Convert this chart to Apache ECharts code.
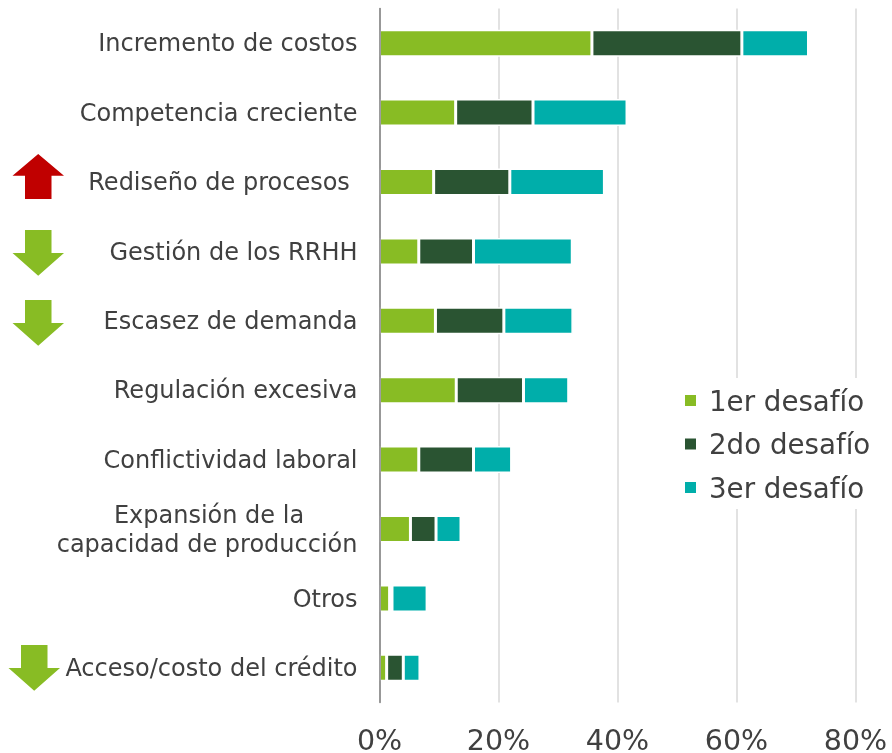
<!DOCTYPE html>
<html>
<head>
<meta charset="utf-8">
<style>html,body{margin:0;padding:0;background:#fff}#c{width:892px;height:753px}</style>
<script src="https://cdn.jsdelivr.net/npm/echarts@6/dist/echarts.min.js"></script>
</head>
<body>
<div id="c"></div>
<script>
const categories = ['Incremento de costos','Competencia creciente','Rediseño de procesos\u00a0','Gestión de los RRHH','Escasez de demanda','Regulación excesiva','Conflictividad laboral','Expansión de la\u00a0\u00a0\u00a0\u00a0\u00a0\u00a0\u00a0\ncapacidad de producción','Otros','Acceso/costo del crédito'];
const primero = [35.7,12.8,9.1,6.6,9.4,12.9,6.6,5.2,1.7,1.2];
const segundo = [25.2,13.0,12.8,9.2,11.5,11.3,9.2,4.3,0.4,2.8];
const tercero = [11.2,15.8,15.9,16.6,11.6,7.6,6.4,4.2,5.9,2.8];
const ticks = [0,20,40,60,80];
const seriesNames = ['1er desafío','2do desafío','3er desafío'];
const colors = ['#88bc24','#2a5432','#00aeaa'];
const TEXT = '#404040', FONT = '"DejaVu Sans"';

const chart = echarts.init(document.getElementById('c'));
const mk = (name, data, color) => ({
  name, type:'bar', stack:'t', barWidth:27, data,
  itemStyle:{color, borderColor:'#fff', borderWidth:1.5}
});
const arrowDown = (x,y) => ({type:'polygon',shape:{points:[[x,y],[x+26.5,y],[x+26.5,y+23],[x+39,y+23],[x+13.2,y+45.7],[x-12.5,y+23],[x,y+23]]},style:{fill:'#88bc24'}});
const arrowUp = (x,y) => ({type:'polygon',shape:{points:[[x,y],[x+26.5,y],[x+26.5,y-23.3],[x+39,y-23.3],[x+13.2,y-45],[x-12.5,y-23.3],[x,y-23.3]]},style:{fill:'#c00000'}});
chart.setOption({
  animation:false,
  grid:{left:379.5,width:476,top:8.5,height:694,containLabel:false,outerBoundsMode:'none'},
  legend:{
    data:seriesNames, orient:'vertical', left:668, top:378, width:215,
    icon:'rect', itemWidth:13, itemHeight:13, itemGap:9.5, padding:[5.5,10,4.5,15],
    backgroundColor:'#fff', selectedMode:false,
    formatter:n=>'{t|'+n+'}',
    textStyle:{fontFamily:FONT,fontSize:27.7,color:TEXT,
      rich:{t:{fontFamily:FONT,fontSize:27.7,color:TEXT,lineHeight:28,padding:[6,0,0,7]}}}
  },
  xAxis:{type:'value',min:0,max:80,interval:20,
    axisLine:{show:false},axisTick:{show:false},
    axisLabel:{fontFamily:FONT,fontSize:28.5,color:TEXT,margin:26,formatter:v=>ticks.includes(v)?v+'%':''},
    splitLine:{show:true,lineStyle:{color:'#d9d9d9',width:1.5}}},
  yAxis:{type:'category',inverse:true,data:categories,z:5,
    axisLine:{show:true,lineStyle:{color:'#7f7f7f',width:1.5}},axisTick:{show:false},
    axisLabel:{interval:0,fontFamily:FONT,fontSize:24,color:TEXT,margin:22,lineHeight:29,
      formatter:v=>v.split('\n').map(s=>'{a|'+s+'}').join('\n'),
      rich:{a:{fontFamily:FONT,fontSize:24,color:TEXT,lineHeight:29,padding:[4,0,0,0]}}}},
  series:[
    mk(seriesNames[0],primero,colors[0]),
    mk(seriesNames[1],segundo.map((v,i)=>categories[i]==='Otros'?{value:v,itemStyle:{color:'#fff'}}:v),colors[1]),
    mk(seriesNames[2],tercero,colors[2])
  ],
  graphic:[arrowUp(25,199),arrowDown(25,230),arrowDown(25,300),arrowDown(21,645)]
});
</script>
</body>
</html>
